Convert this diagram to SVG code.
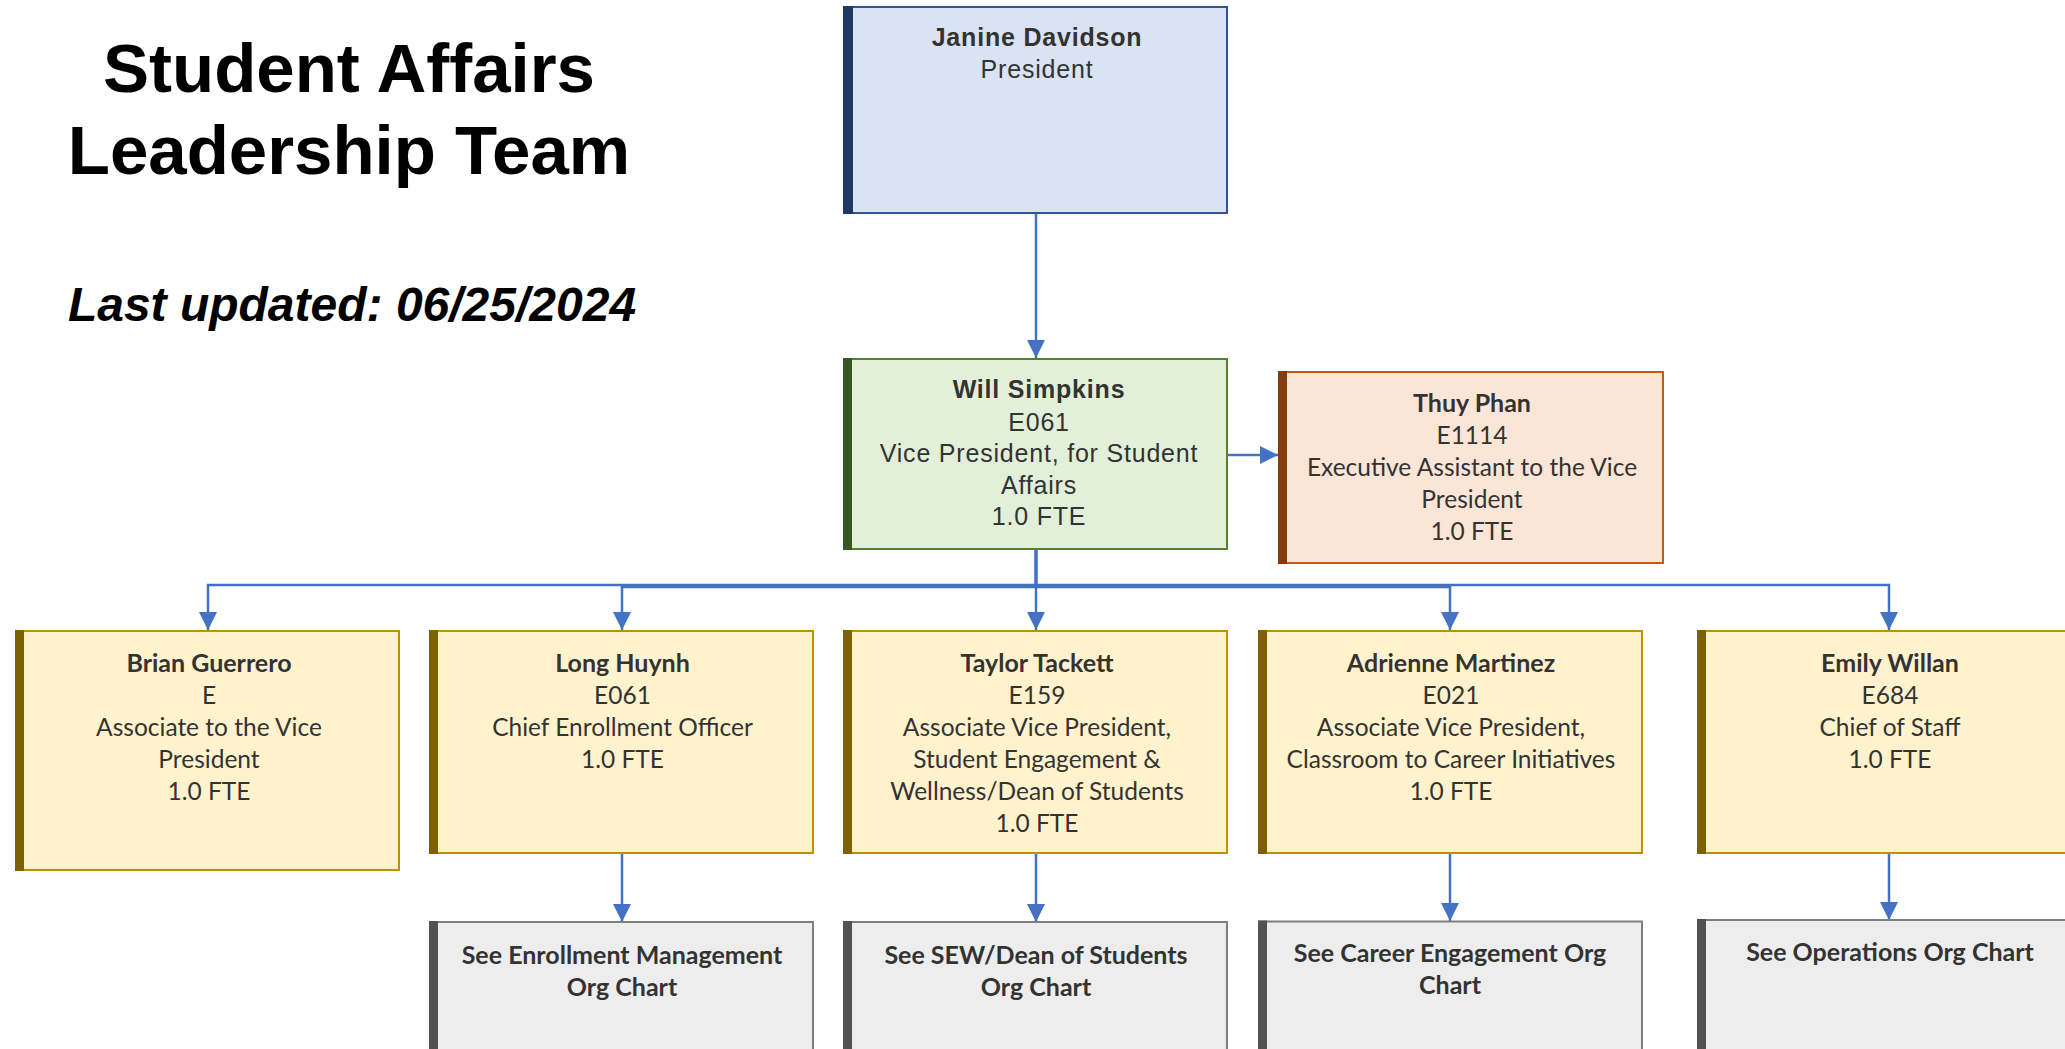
<svg xmlns="http://www.w3.org/2000/svg" width="2065" height="1049" viewBox="0 0 2065 1049">
<defs>
<style>
.title{font-family:"Liberation Sans",Arial,sans-serif;font-weight:bold;font-size:69px;fill:#000;text-anchor:middle}
.date{font-family:"Liberation Sans",Arial,sans-serif;font-weight:bold;font-style:italic;font-size:48px;fill:#000;text-anchor:middle}
.ar{font-family:"Liberation Sans",Arial,sans-serif;font-size:25px;letter-spacing:0.8px;fill:#333;text-anchor:middle}
.cb{font-family:Lato,"Open Sans",sans-serif;font-size:24.5px;fill:#333;text-anchor:middle}
.b{font-weight:bold;font-size:25px}
.ar.b{font-size:25px}
.conn{fill:none;stroke:#4472C4;stroke-width:2.5}
.blue{fill:#DAE3F3;stroke:#2F5597;stroke-width:2}
.green{fill:#E2F0D9;stroke:#548235;stroke-width:2}
.orange{fill:#FBE5D6;stroke:#C55A11;stroke-width:2}
.yellow{fill:#FFF2CC;stroke:#BF9000;stroke-width:2}
.grey{fill:#EDEDED;stroke:#7F7F7F;stroke-width:2}
</style>
<marker id="arr" viewBox="0 0 18 18" markerWidth="18" markerHeight="18" markerUnits="userSpaceOnUse" refX="18" refY="9" orient="auto">
<path d="M0,0 L18,9 L0,18 z" fill="#4472C4"/>
</marker>
</defs>
<rect width="2065" height="1049" fill="#fff"/>

<g id="title">
<text class="title" x="349" y="92">Student Affairs</text>
<text class="title" x="349" y="174">Leadership Team</text>
<text class="date" x="352" y="321">Last updated: 06/25/2024</text>
</g>

<g id="connectors">
<path class="conn" d="M1036,214 V358" marker-end="url(#arr)"/>
<path class="conn" d="M1228,455 H1278" marker-end="url(#arr)"/>
<path class="conn" d="M1036,550 V585 H208 V630" marker-end="url(#arr)"/>
<path class="conn" d="M1036,550 V587 H622 V630" marker-end="url(#arr)"/>
<path class="conn" d="M1036,550 V630" marker-end="url(#arr)"/>
<path class="conn" d="M1036,550 V587 H1450 V630" marker-end="url(#arr)"/>
<path class="conn" d="M1036,550 V585 H1889 V630" marker-end="url(#arr)"/>
<path class="conn" d="M622,854 V922" marker-end="url(#arr)"/>
<path class="conn" d="M1036,854 V922" marker-end="url(#arr)"/>
<path class="conn" d="M1450,854 V921" marker-end="url(#arr)"/>
<path class="conn" d="M1889,854 V920" marker-end="url(#arr)"/>
</g>

<g id="president">
<rect class="blue" x="844" y="7" width="383" height="206"/>
<rect x="843" y="6" width="10" height="208" fill="#203864"/>
<text class="ar b" x="1037" y="46">Janine Davidson</text>
<text class="ar" x="1037" y="78">President</text>
</g>

<g id="vp">
<rect class="green" x="844" y="359" width="383" height="190"/>
<rect x="843" y="358" width="9" height="192" fill="#385723"/>
<text class="ar b" x="1039" y="398">Will Simpkins</text>
<text class="ar" x="1039" y="431">E061</text>
<text class="ar" x="1039" y="462">Vice President, for Student</text>
<text class="ar" x="1039" y="494">Affairs</text>
<text class="ar" x="1039" y="525">1.0 FTE</text>
</g>

<g id="thuy">
<rect class="orange" x="1279" y="372" width="384" height="191"/>
<rect x="1278" y="371" width="9" height="193" fill="#843C0C"/>
<text class="cb b" x="1472" y="411.5">Thuy Phan</text>
<text class="cb" x="1472" y="443.5">E1114</text>
<text class="cb" x="1472" y="475.5">Executive Assistant to the Vice</text>
<text class="cb" x="1472" y="507.5">President</text>
<text class="cb" x="1472" y="539.5">1.0 FTE</text>
</g>

<g id="brian">
<rect class="yellow" x="16" y="631" width="383" height="239"/>
<rect x="15" y="630" width="9" height="241" fill="#7F6000"/>
<text class="cb b" x="209" y="671.5">Brian Guerrero</text>
<text class="cb" x="209" y="703.5">E</text>
<text class="cb" x="209" y="735.5">Associate to the Vice</text>
<text class="cb" x="209" y="767.5">President</text>
<text class="cb" x="209" y="799.5">1.0 FTE</text>
</g>

<g id="long">
<rect class="yellow" x="430" y="631" width="383" height="222"/>
<rect x="429" y="630" width="9" height="224" fill="#7F6000"/>
<text class="cb b" x="622.5" y="671.5">Long Huynh</text>
<text class="cb" x="622.5" y="703.5">E061</text>
<text class="cb" x="622.5" y="735.5">Chief Enrollment Officer</text>
<text class="cb" x="622.5" y="767.5">1.0 FTE</text>
</g>

<g id="taylor">
<rect class="yellow" x="844" y="631" width="383" height="222"/>
<rect x="843" y="630" width="9" height="224" fill="#7F6000"/>
<text class="cb b" x="1037" y="671.5">Taylor Tackett</text>
<text class="cb" x="1037" y="703.5">E159</text>
<text class="cb" x="1037" y="735.5">Associate Vice President,</text>
<text class="cb" x="1037" y="767.5">Student Engagement &amp;</text>
<text class="cb" x="1037" y="799.5">Wellness/Dean of Students</text>
<text class="cb" x="1037" y="831.5">1.0 FTE</text>
</g>

<g id="adrienne">
<rect class="yellow" x="1259" y="631" width="383" height="222"/>
<rect x="1258" y="630" width="9" height="224" fill="#7F6000"/>
<text class="cb b" x="1451" y="671.5">Adrienne Martinez</text>
<text class="cb" x="1451" y="703.5">E021</text>
<text class="cb" x="1451" y="735.5">Associate Vice President,</text>
<text class="cb" x="1451" y="767.5">Classroom to Career Initiatives</text>
<text class="cb" x="1451" y="799.5">1.0 FTE</text>
</g>

<g id="emily">
<rect class="yellow" x="1698" y="631" width="383" height="222"/>
<rect x="1697" y="630" width="9" height="224" fill="#7F6000"/>
<text class="cb b" x="1890" y="671.5">Emily Willan</text>
<text class="cb" x="1890" y="703.5">E684</text>
<text class="cb" x="1890" y="735.5">Chief of Staff</text>
<text class="cb" x="1890" y="767.5">1.0 FTE</text>
</g>

<g id="enrollment">
<rect class="grey" x="430" y="922" width="383" height="140"/>
<rect x="429" y="921" width="9" height="142" fill="#525252"/>
<text class="cb b" x="622" y="963.5">See Enrollment Management</text>
<text class="cb b" x="622" y="995.5">Org Chart</text>
</g>

<g id="sew">
<rect class="grey" x="844" y="922" width="383" height="140"/>
<rect x="843" y="921" width="9" height="142" fill="#525252"/>
<text class="cb b" x="1036" y="963.5">See SEW/Dean of Students</text>
<text class="cb b" x="1036" y="995.5">Org Chart</text>
</g>

<g id="career">
<rect class="grey" x="1259" y="921.5" width="383" height="140"/>
<rect x="1258" y="920.5" width="9" height="142" fill="#525252"/>
<text class="cb b" x="1450" y="961.5">See Career Engagement Org</text>
<text class="cb b" x="1450" y="993.5">Chart</text>
</g>

<g id="operations">
<rect class="grey" x="1698" y="920" width="383" height="140"/>
<rect x="1697" y="919" width="9" height="142" fill="#525252"/>
<text class="cb b" x="1890" y="960.5">See Operations Org Chart</text>
</g>
</svg>
